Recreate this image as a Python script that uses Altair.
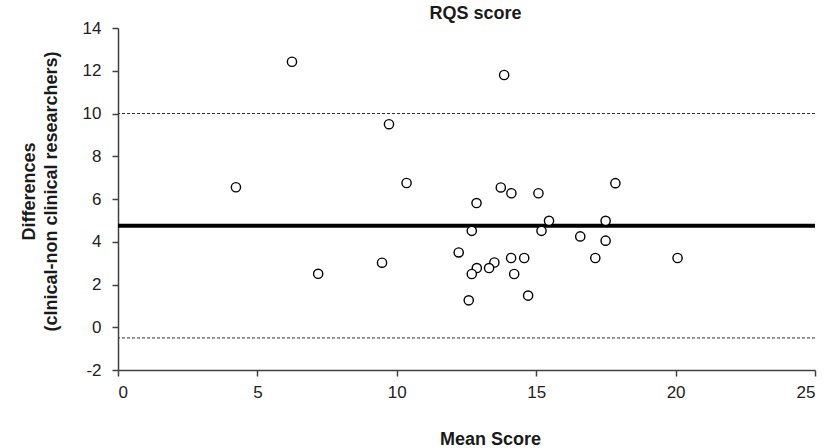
import altair as alt
import pandas as pd

mean_score = [6.24, 4.23, 7.18, 9.72, 10.35, 9.47, 13.85, 13.73, 14.11, 15.08,
              17.84, 12.86, 15.46, 17.49, 12.69, 15.19, 16.58, 17.49, 12.22, 14.10,
              14.57, 17.12, 20.07, 13.50, 12.87, 13.31, 12.69, 14.21, 14.71, 12.58]
differences = [12.42, 6.55, 2.50, 9.50, 6.75, 3.02, 11.80, 6.54, 6.27, 6.27,
               6.74, 5.81, 4.98, 4.98, 4.51, 4.51, 4.25, 4.05, 3.50, 3.24,
               3.24, 3.24, 3.24, 3.03, 2.77, 2.77, 2.49, 2.49, 1.48, 1.26]
mean_diff = [4.75]
limits = [10.0, -0.5]

pts = pd.DataFrame({"x": mean_score, "y": differences})
mean_df = pd.DataFrame({"v": mean_diff})
lim_df = pd.DataFrame({"v": limits})

FONT = "Liberation Sans"

xscale = alt.Scale(domain=[0, 25], nice=False, zero=False)
yscale = alt.Scale(domain=[-2, 14], nice=False, zero=False)

xaxis = alt.Axis(values=[0, 5, 10, 15, 20, 25], title="Mean Score", grid=False,
                 titleX=372, titleY=74, titleBaseline="alphabetic",
                 titleAlign="center", labelPadding=8)
yaxis = alt.Axis(values=list(range(-2, 15, 2)), title=["Differences", "(clnical-non clinical researchers)"],
                 grid=False, titleX=-89, titleY=163, titleBaseline="middle", titleAngle=270,
                 titleAlign="center", titleLineHeight=22, labelPadding=11,
                 labelExpr="'' + datum.value")

points = alt.Chart(pts).mark_point(shape="circle", filled=True, fill="white", stroke="black",
                                   strokeWidth=1.4, size=85, opacity=1).encode(
    x=alt.X("x:Q", scale=xscale, axis=xaxis),
    y=alt.Y("y:Q", scale=yscale, axis=yaxis),
)

mean_line = alt.Chart(mean_df).mark_rule(color="black", strokeWidth=4).encode(
    y=alt.Y("v:Q", scale=yscale)
)
lim_lines = alt.Chart(lim_df).mark_rule(color="#333333", strokeWidth=1, strokeDash=[3, 2]).encode(
    y=alt.Y("v:Q", scale=yscale)
)

chart = alt.layer(lim_lines, mean_line, points).properties(
    width=697, height=342,
    title=alt.TitleParams("RQS score", fontSize=18, font=FONT, fontWeight="bold", color="#1a1a1a",
                          anchor="middle", dx=9, dy=22, offset=0, baseline="bottom"),
    autosize=alt.AutoSizeParams(type="none"),
    padding={"left": 118, "top": 28, "right": 16, "bottom": 78},
).configure_view(stroke=None).configure_axis(
    labelFont=FONT, labelFontSize=17, labelColor="#222222",
    titleFont=FONT, titleFontSize=18, titleFontWeight="bold", titleColor="#1a1a1a",
    domainColor="#404040", domainWidth=1.5, tickColor="#404040", tickWidth=1.5, tickSize=6,
)

chart.save("out.html", embed_options={"renderer": "svg", "actions": False})
